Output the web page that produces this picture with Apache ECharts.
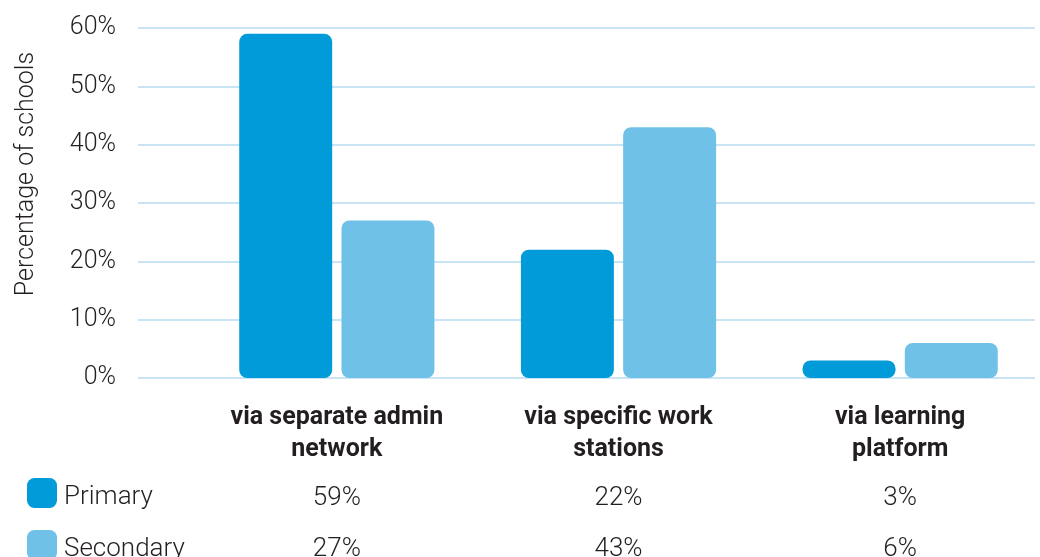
<!DOCTYPE html>
<html>
<head>
<meta charset="utf-8">
<script src="https://cdn.jsdelivr.net/npm/echarts@6/dist/echarts.min.js"></script>
<style>
html,body{margin:0;padding:0;background:#fff;}
#c{width:1040px;height:557px;}
</style>
</head>
<body>
<div id="c"></div>
<script>
const categories = ['via separate admin\nnetwork', 'via specific work\nstations', 'via learning\nplatform'];
const seriesNames = ['Primary', 'Secondary'];
const primaryVals = [59, 22, 3];
const secondaryVals = [27, 43, 6];
const yTicks = [0, 10, 20, 30, 40, 50, 60];

const FONT = 'Roboto';
const TXT = '#231f20';
const C1 = '#009bd8';
const C2 = '#6fc1e8';
const GRIDC = '#c9e5f5';

const chart = echarts.init(document.getElementById('c'), null, {renderer: 'canvas'});
const yMin = yTicks[0], yMax = yTicks[yTicks.length - 1], yInt = yTicks[1] - yTicks[0];

const legendBase = {
  orient: 'vertical',
  left: 22,
  itemWidth: 30,
  itemHeight: 30,
  icon: 'roundRect',
  formatter: '{t|{name}}',
  textStyle: {
    fontFamily: FONT, fontSize: 26, fontWeight: 300, color: TXT,
    rich: {t: {fontFamily: FONT, fontSize: 26, fontWeight: 300, color: TXT, padding: [8, 0, 0, 2]}}
  },
  selectedMode: false
};

chart.setOption({
  animation: false,
  backgroundColor: '#fff',
  textStyle: {fontFamily: FONT},
  grid: [
    {left: 138, right: 5, top: 28, bottom: 179, outerBoundsMode: 'none', containLabel: false},
    {left: 196, right: -1, top: 28, bottom: 179, outerBoundsMode: 'none', containLabel: false}
  ],
  legend: [
    Object.assign({}, legendBase, {data: [seriesNames[0]], top: 473}),
    Object.assign({}, legendBase, {data: [seriesNames[1]], top: 525})
  ],
  graphic: [{
    type: 'text',
    x: 27, y: 174,
    rotation: Math.PI / 2,
    style: {
      text: 'Percentage of schools',
      fontFamily: FONT, fontSize: 25, fontWeight: 300, fill: TXT,
      textAlign: 'center', textVerticalAlign: 'middle'
    }
  }],
  xAxis: [
    {type: 'value', gridIndex: 0, show: false, min: 0, max: 1},
    {type: 'category', gridIndex: 1, data: categories, position: 'bottom',
      axisLine: {show: false}, axisTick: {show: false},
      axisLabel: {margin: 24, fontFamily: FONT, fontSize: 25, fontWeight: 'bold', color: TXT, lineHeight: 32, interval: 0}
    },
    {type: 'category', gridIndex: 1, data: categories, position: 'bottom', offset: 100,
      axisLine: {show: false}, axisTick: {show: false},
      axisLabel: {margin: 10, fontFamily: FONT, fontSize: 26, fontWeight: 300, color: TXT, lineHeight: 20, interval: 0,
        formatter: (v, i) => primaryVals[i] + '%'}
    },
    {type: 'category', gridIndex: 1, data: categories, position: 'bottom', offset: 151,
      axisLine: {show: false}, axisTick: {show: false},
      axisLabel: {margin: 10, fontFamily: FONT, fontSize: 26, fontWeight: 300, color: TXT, lineHeight: 20, interval: 0,
        formatter: (v, i) => secondaryVals[i] + '%'}
    }
  ],
  yAxis: [
    {type: 'value', gridIndex: 0, min: yMin, max: yMax, interval: yInt,
      axisLine: {show: false}, axisTick: {show: false},
      splitLine: {show: true, lineStyle: {color: GRIDC, width: 2}},
      axisLabel: {margin: 22, fontFamily: FONT, fontSize: 25, fontWeight: 300, color: TXT, formatter: '{value}%'}
    },
    {type: 'value', gridIndex: 1, min: yMin, max: yMax, interval: yInt, show: false, splitLine: {show: false}}
  ],
  series: [
    {name: seriesNames[0], type: 'bar', xAxisIndex: 1, yAxisIndex: 1, data: primaryVals,
      barGap: '10%', barCategoryGap: '30.7%',
      itemStyle: {color: C1, borderRadius: 8}},
    {name: seriesNames[1], type: 'bar', xAxisIndex: 1, yAxisIndex: 1, data: secondaryVals,
      barGap: '10%', barCategoryGap: '30.7%',
      itemStyle: {color: C2, borderRadius: 8}}
  ]
});
</script>
</body>
</html>
